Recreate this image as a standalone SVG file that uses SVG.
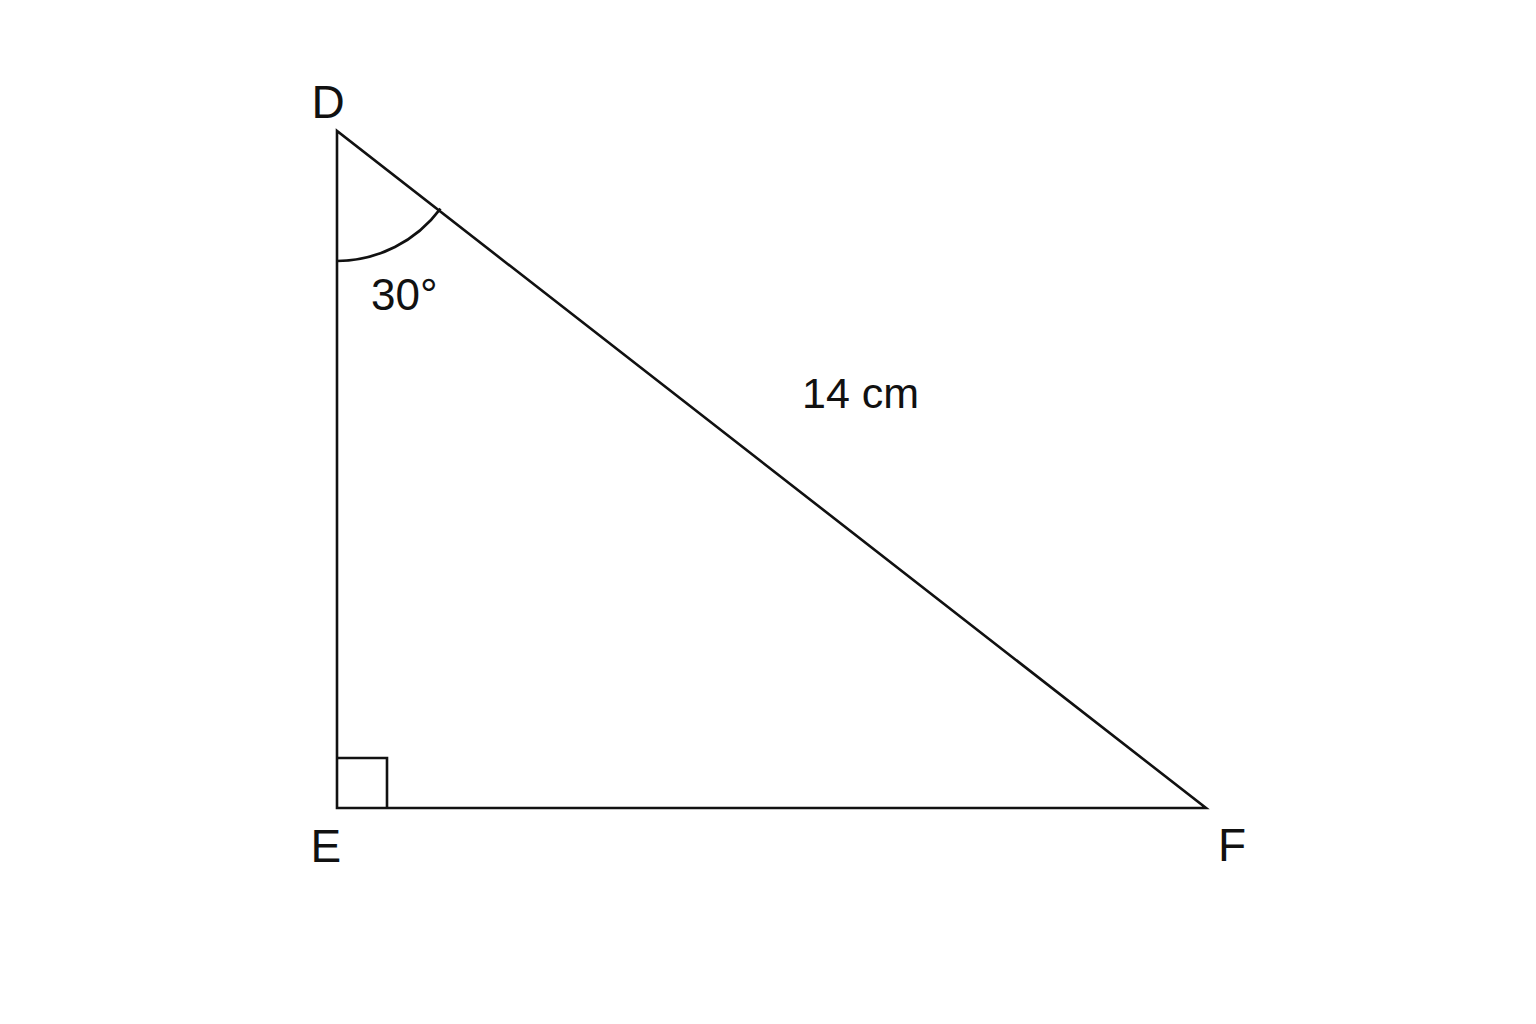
<svg xmlns="http://www.w3.org/2000/svg" width="1536" height="1024" viewBox="0 0 1536 1024">
<style>
.ln{fill:none;stroke:#111;stroke-width:2.6;stroke-linejoin:miter;stroke-linecap:butt}
.t{font-family:"Liberation Sans",Arial,sans-serif;fill:#111}
</style>
<rect width="1536" height="1024" fill="#fff"/>
<g id="connectors">
<path class="ln" d="M337 131 L337 808 L1206 808 Z"/>
</g>
<g id="angle-D">
<path class="ln" d="M337 261 A130 130 0 0 0 440.5 208.6"/>
<text class="t" x="371" y="310" font-size="44">30°</text>
</g>
<g id="right-angle-E">
<path class="ln" d="M337 758 L387 758 L387 808"/>
</g>
<g id="node-D"><text class="t" x="311.5" y="117.5" font-size="46">D</text></g>
<g id="node-E"><text class="t" x="310.5" y="862" font-size="46">E</text></g>
<g id="node-F"><text class="t" x="1218" y="861" font-size="46">F</text></g>
<g id="label-DF"><text class="t" x="802" y="408" font-size="43">14 cm</text></g>
</svg>
